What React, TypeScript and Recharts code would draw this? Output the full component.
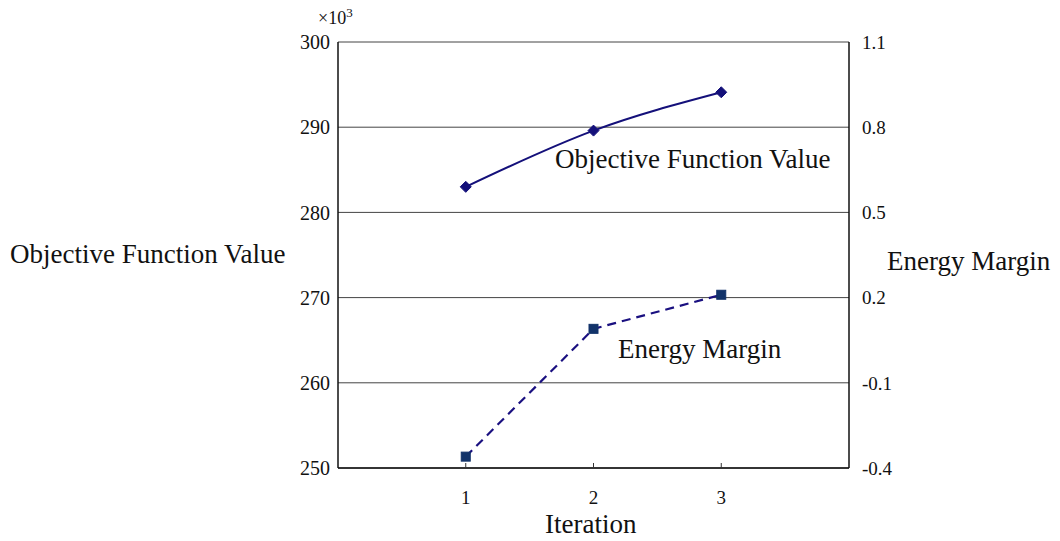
import { LineChart, Line, XAxis, YAxis, CartesianGrid } from "recharts";

const iterations = [1, 2, 3];
const objectiveValues = [283.0, 289.6, 294.1]; // x10^3
const energyMargins = [-0.36, 0.09, 0.21];
const objectiveTicks = [250, 260, 270, 280, 290, 300];
const marginTicks = [-0.4, -0.1, 0.2, 0.5, 0.8, 1.1];
const iterationTicks = [1, 2, 3];

const data = iterations.map((it, i) => ({
  iteration: it,
  objective: objectiveValues[i],
  margin: energyMargins[i],
}));

const FONT = "'Times New Roman', 'Liberation Serif', 'DejaVu Serif', serif";
const TICK_GAP = 22;

const Diamond = (props: any) => {
  const { cx, cy } = props;
  if (cx == null || cy == null) return null;
  const r = 5.5;
  return (
    <path
      d={`M${cx},${cy - r} L${cx + r},${cy} L${cx},${cy + r} L${cx - r},${cy} Z`}
      fill="#14107a"
      stroke="#14107a"
    />
  );
};

const Square = (props: any) => {
  const { cx, cy } = props;
  if (cx == null || cy == null) return null;
  const s = 4.5;
  return <rect x={cx - s} y={cy - s} width={s * 2} height={s * 2} fill="#12336a" stroke="#12336a" />;
};

const XTick = (props: any) => {
  const { x, y, payload } = props;
  return (
    <g>
      <line x1={x} x2={x} y1={y - TICK_GAP} y2={y - TICK_GAP - 5} stroke="#333" />
      <text x={x} y={y} dy="0.72em" textAnchor="middle" fontSize={19} fontFamily={FONT} fill="#111">
        {payload.value}
      </text>
    </g>
  );
};

const textStyle = { position: "absolute" as const, fontFamily: FONT, color: "#111", whiteSpace: "nowrap" as const, lineHeight: 1 };

export default function App() {
  return (
    <div style={{ position: "absolute", left: 0, top: 0, width: 1060, height: 541, background: "#fff" }}>
      <LineChart width={1060} height={541} data={data} margin={{ top: 42, right: 0, left: 0, bottom: 0 }}>
        <CartesianGrid horizontal vertical={false} stroke="#444" yAxisId="left" />
        <XAxis
          dataKey="iteration"
          type="number"
          domain={[0, 4]}
          ticks={iterationTicks}
          tickLine={false}
          tickSize={0}
          tickMargin={TICK_GAP}
          tick={<XTick />}
          axisLine={{ stroke: "#111", strokeWidth: 1.5 }}
          height={73}
        />
        <YAxis
          yAxisId="left"
          orientation="left"
          domain={[250, 300]}
          ticks={objectiveTicks}
          width={338}
          tickLine={false}
          tickSize={0}
          tickMargin={8}
          axisLine={{ stroke: "#111", strokeWidth: 1.5 }}
          tick={{ fontSize: 20, fontFamily: FONT, fill: "#111" }}
        />
        <YAxis
          yAxisId="right"
          orientation="right"
          domain={[-0.4, 1.1]}
          ticks={marginTicks}
          width={211}
          tickLine={false}
          tickSize={0}
          tickMargin={13}
          axisLine={{ stroke: "#111", strokeWidth: 1.5 }}
          tick={{ fontSize: 19, fontFamily: FONT, fill: "#111", textAnchor: "start" }}
        />
        <Line
          yAxisId="left"
          dataKey="objective"
          type="natural"
          stroke="#14107a"
          strokeWidth={2}
          dot={<Diamond />}
          activeDot={false}
          isAnimationActive={false}
        />
        <Line
          yAxisId="right"
          dataKey="margin"
          type="linear"
          stroke="#1a1080"
          strokeWidth={2.2}
          strokeDasharray="9 6"
          dot={<Square />}
          activeDot={false}
          isAnimationActive={false}
        />
      </LineChart>
      <div style={{ ...textStyle, left: 318, top: 6, fontSize: 18 }}>
        ×10<sup style={{ fontSize: 13 }}>3</sup>
      </div>
      <div style={{ ...textStyle, left: 10, top: 241, fontSize: 27 }}>Objective Function Value</div>
      <div style={{ ...textStyle, left: 887, top: 248, fontSize: 27 }}>Energy Margin</div>
      <div style={{ ...textStyle, left: 555, top: 146, fontSize: 27 }}>Objective Function Value</div>
      <div style={{ ...textStyle, left: 618, top: 336, fontSize: 27 }}>Energy Margin</div>
      <div style={{ ...textStyle, left: 545, top: 511, fontSize: 27 }}>Iteration</div>
    </div>
  );
}
